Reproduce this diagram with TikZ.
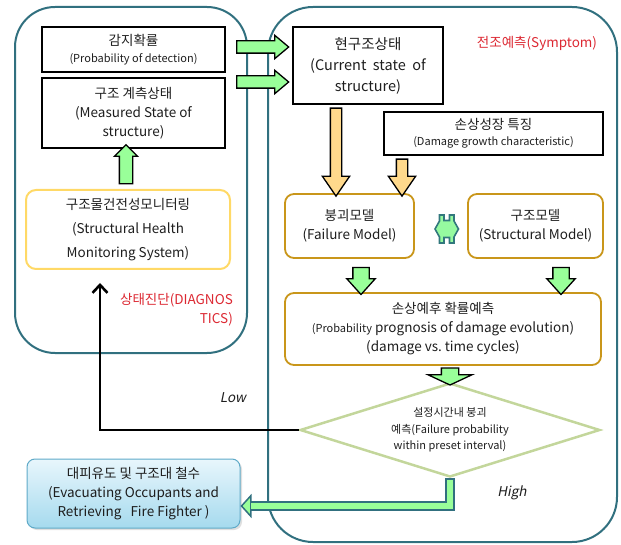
\documentclass[tikz,border=0pt]{standalone}
\usepackage{fontspec}
\setmainfont{Noto Sans CJK KR}
\newfontfamily\slfont[FakeSlant=0.2]{Noto Sans CJK KR}
\usepackage{tikz}
\usetikzlibrary{shapes.geometric,shapes.arrows,arrows.meta,shadows}

\definecolor{frameteal}{RGB}{49,112,127}
\definecolor{goldline}{RGB}{201,150,26}
\definecolor{shmline}{RGB}{255,217,102}
\definecolor{arrowgreen}{RGB}{153,255,153}
\definecolor{linkgreen}{RGB}{150,250,160}
\definecolor{linkteal}{RGB}{50,120,125}
\definecolor{arrowyellow}{RGB}{255,217,140}
\definecolor{diamondgreen}{RGB}{195,214,155}
\definecolor{evacline}{RGB}{95,170,200}
\definecolor{evactop}{RGB}{232,246,252}
\definecolor{evacbot}{RGB}{165,218,238}
\definecolor{alertred}{RGB}{220,40,50}
\definecolor{txt}{RGB}{30,30,30}

\newcommand{\fsA}{\fontsize{13.5}{19}\selectfont}
\newcommand{\fsB}{\fontsize{14.5}{21}\selectfont}
\newcommand{\fsS}{\fontsize{11}{14}\selectfont}
\newcommand{\fsD}{\fontsize{11}{16.5}\selectfont}

\begin{document}
\begin{tikzpicture}[x=1pt, y=-1pt,
    every node/.style={text=txt},
    frame/.style={draw=frameteal, line width=2pt},
    box/.style={draw, line width=1.2pt, inner sep=0pt, align=center, font=\fsA},
    model/.style={draw=goldline, line width=1.8pt, rounded corners=9pt, inner sep=0pt, align=center, font=\fsA},
    greenarrow/.style={single arrow, draw=black, line width=1.3pt, fill=arrowgreen, inner xsep=0pt},
    yellowarrow/.style={single arrow, draw=black, line width=1.3pt, fill=arrowyellow, inner xsep=0pt,
        inner ysep=5pt, single arrow head extend=8pt, single arrow tip angle=69},
    evacbox/.style={draw=evacline, line width=1pt, rounded corners=8pt, top color=evactop, bottom color=evacbot,
        drop shadow={opacity=0.25, shadow xshift=2pt, shadow yshift=-2pt}, inner sep=0pt, align=center, font=\fsA},
    lowline/.style={black, line width=2.6pt, -{Straight Barb[length=8pt, width=15pt]}},
    highline/.style={frameteal, line width=10pt, -{Triangle[length=11pt, width=24pt, line width=1.5pt, fill=arrowgreen]}}]
    \useasboundingbox (0,0) rectangle (621,545);

    % containers
    \draw[frame, rounded corners=40pt] (15,7) rectangle (247,353);
    \draw[frame, rounded corners=45pt] (268,7) rectangle (617,542);

    % left side: diagnostics
    \node[box, minimum width=183pt, minimum height=45pt] (detect) at (133.5,49.5)
        {감지확률\\[-2pt]{\fsS (Probability of detection)}};
    \node[box, minimum width=183pt, minimum height=70pt] (measured) at (133.5,113)
        {구조 계측상태\\(Measured State of\\structure)};
    \node[draw=shmline, line width=2pt, rounded corners=10pt, inner sep=0pt, align=center,
        font=\fontsize{13.5}{24}\selectfont, minimum width=204pt, minimum height=79pt] (shm) at (128,229.5)
        {구조물건전성모니터링\\(Structural Health\\Monitoring System)};
    \node[text=alertred, align=right, font=\fsA, anchor=east, inner sep=0pt] (diag) at (233,309.5)
        {상태진단(DIAGNOS\\TICS)};

    % right side: symptom
    \node[box, font=\fsB, minimum width=150pt, minimum height=77pt] (current) at (368,65.5)
        {현구조상태\\(Current~ state~ of\\structure)};
    \node[text=alertred, font=\fsA] (symptom) at (537,43) {전조예측(Symptom)};
    \node[box, minimum width=219pt, minimum height=43pt] (growth) at (493.5,133.5)
        {손상성장 특징\\[-3pt]{\fsS (Damage growth characteristic)}};
    \node[model, minimum width=129pt, minimum height=64pt] (failure) at (349.5,226)
        {붕괴모델\\(Failure Model)};
    \node[model, minimum width=135pt, minimum height=64pt] (structural) at (535.5,226)
        {구조모델\\(Structural Model)};
    \node[model, minimum width=316pt, minimum height=72pt] (prognosis) at (443,329)
        {손상예후 확률예측\\{\fsS(Probability} prognosis of damage evolution)\\(damage vs.\ time cycles)};
    \node[diamond, draw=diamondgreen, line width=2.5pt, shape aspect=3, inner sep=0pt, align=center, font=\fsD,
        minimum width=300pt, minimum height=94pt] (decide) at (450,430)
        {설정시간내 붕괴\\예측(Failure probability\\within preset interval)};
    \node[evacbox, minimum width=213pt, minimum height=69pt] (evac) at (133.5,493.5)
        {대피유도 및 구조대 철수\\(Evacuating Occupants and\\Retrieving~~ Fire Fighter )};

    % block arrows
    \node[greenarrow, minimum height=52pt, inner ysep=5.5pt, single arrow head extend=5.5pt,
        single arrow tip angle=80] (toCur1) at (259,47) {};
    \node[greenarrow, minimum height=52pt, inner ysep=5.5pt, single arrow head extend=5.5pt,
        single arrow tip angle=80] (toCur2) at (259,82) {};
    \node[greenarrow, rotate=90, minimum height=39pt, inner ysep=6pt, single arrow head extend=5pt,
        single arrow tip angle=90] (toMeas) at (126,167.5) {};
    \node[yellowarrow, rotate=-90, minimum height=88pt] (curDown) at (336,148) {};
    \node[yellowarrow, rotate=-90, minimum height=37pt] (growDown) at (402,173.5) {};
    \node[greenarrow, rotate=-90, minimum height=27pt, inner ysep=7.5pt, single arrow head extend=6pt,
        single arrow tip angle=84] (failDown) at (361,276.5) {};
    \node[greenarrow, rotate=-90, minimum height=27pt, inner ysep=7.5pt, single arrow head extend=6pt,
        single arrow tip angle=84] (strDown) at (561,276.5) {};
    \node[greenarrow, rotate=-90, minimum height=17pt, inner ysep=8pt, single arrow head extend=13.5pt,
        single arrow tip angle=130] (progDown) at (450,374.5) {};

    % link between the two models
    \draw[linkteal, line width=1.6pt, fill=linkgreen, line join=miter]
        (435,229) -- (439.5,221) -- (439.5,215) -- (444,215) -- (444,220.5) -- (449.5,220.5)
        -- (449.5,215) -- (454,215) -- (454,221) -- (458.5,229) -- (454,237) -- (454,243)
        -- (449.5,243) -- (449.5,237.5) -- (444,237.5) -- (444,243) -- (439.5,243) -- (439.5,237) -- cycle;

    % decision branches
    \coordinate (lowtip) at (100,283);
    \draw[lowline] (decide.west) -| (lowtip);
    \node[font=\slfont\fsA] (low) at (233,398) {Low};

    \draw[highline] (decide.south) |- ([yshift=-12.5pt]evac.east);
    \draw[arrowgreen, line width=6pt, shorten >=10pt, shorten <=2pt] (decide.south) |- ([yshift=-12.5pt]evac.east);
    \node[font=\slfont\fsA] (high) at (512,493) {High};

\end{tikzpicture}
\end{document}
